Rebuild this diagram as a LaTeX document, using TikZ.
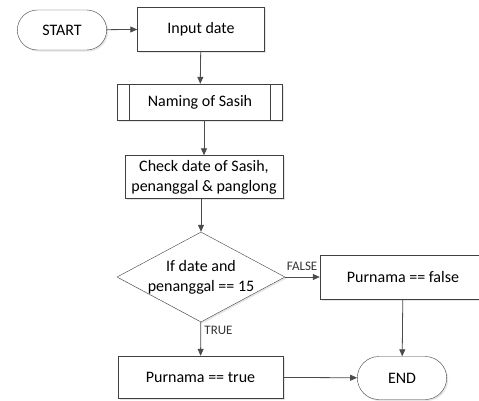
\documentclass[tikz,border=0pt]{standalone}
\usepackage{fontspec}
\setmainfont{Carlito}
\usetikzlibrary{positioning, shapes, arrows.meta, shadows}

\begin{document}
\begin{tikzpicture}[x=1pt, y=-1pt,
  base/.style={draw=black!75, fill=white, align=center, font=\fontsize{16}{20}\selectfont,
    drop shadow={opacity=0.2, shadow xshift=1.5pt, shadow yshift=-1.5pt}},
  term/.style={base, rounded rectangle, minimum width=96pt, minimum height=40pt},
  proc/.style={base, rectangle, minimum width=165pt, minimum height=43pt},
  subproc/.style={proc, minimum height=36pt, path picture={
    \draw[black!75] ([xshift=12pt]path picture bounding box.north west) -- ([xshift=12pt]path picture bounding box.south west);
    \draw[black!75] ([xshift=-12pt]path picture bounding box.north east) -- ([xshift=-12pt]path picture bounding box.south east);}},
  decision/.style={base, diamond, aspect=1.87, minimum width=168pt, minimum height=90pt, inner sep=-3pt},
  branch/.style={font=\fontsize{13}{15}\selectfont, text=black!80},
  arrow/.style={-{Triangle[length=7pt, width=6pt]}, draw=black!70, thick}
]
\useasboundingbox (0,0) rectangle (479,400);
\node[term] (start) at (62,30) {START};
\node[proc, minimum width=127pt, minimum height=44pt] (input) at (201,29) {Input date};
\node[subproc] (naming) at (200,102) {Naming of Sasih};
\node[proc, minimum width=158pt] (check) at (204,177) {Check date of Sasih,\\penanggal \& panglong};
\node[decision] (cond) at (201,277) {If date and\\penanggal == 15};
\node[proc, minimum width=166pt, minimum height=44pt] (pfalse) at (403,277) {Purnama == false};
\node[proc, minimum height=42pt] (ptrue) at (200.5,377) {Purnama == true};
\node[term, minimum height=43pt] (end) at (402,378) {END};
\draw[arrow] (start) -- (input);
\draw[arrow] (input) -- (naming);
\draw[arrow] (naming.south -| check) -- (check);
\draw[arrow] (check.south -| cond) -- (cond);
\draw[arrow] (cond) -- node[branch, above left=3pt and -3pt, pos=0.95] {FALSE} (pfalse);
\draw[arrow] (cond) -- node[branch, right, pos=0.25] {TRUE} (ptrue);
\draw[arrow] (pfalse) -- (end);
\draw[arrow] (ptrue) -- (end);
\end{tikzpicture}
\end{document}
